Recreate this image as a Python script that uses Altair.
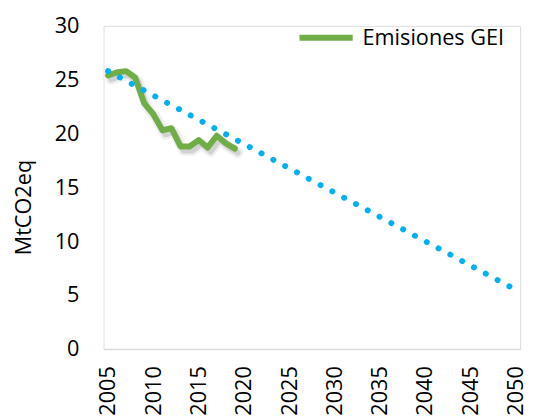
import altair as alt
import pandas as pd

# ---- data ----
hist_years = [2005, 2006, 2007, 2008, 2009, 2010, 2011, 2012, 2013, 2014,
              2015, 2016, 2017, 2018, 2019]
hist_values = [25.4, 25.7, 25.8, 25.2, 22.8, 21.8, 20.3, 20.5, 18.8, 18.8,
               19.4, 18.7, 19.8, 19.1, 18.6]
target_years = [2005, 2050]
target_values = [25.8, 5.5]
x_ticks = [2005, 2010, 2015, 2020, 2025, 2030, 2035, 2040, 2045, 2050]
y_ticks = [0, 5, 10, 15, 20, 25, 30]
series_name = "Emisiones GEI"

FONT = "Open Sans"
FS = 22

hist = pd.DataFrame({"year": hist_years, "value": hist_values,
                     "serie": [series_name] * len(hist_years)})
target = pd.DataFrame({"year": target_years, "value": target_values})

xscale = alt.Scale(domain=[2004.5, 2050.5], nice=False, zero=False)
yscale = alt.Scale(domain=[0, 30], nice=False)

x_axis = alt.Axis(values=x_ticks, format="d", labelAngle=270, labelFontSize=FS,
                  labelFont=FONT, labelColor="#000000", labelPadding=17,
                  ticks=False, tickSize=0, grid=False, domainColor="#d9d9d9",
                  domainWidth=1.5, title=None, labelOverlap=False,
                  labelFlush=False)
y_axis = alt.Axis(values=y_ticks, labelFontSize=FS, labelFont=FONT,
                  labelColor="#000000", labelPadding=25, ticks=False,
                  tickSize=0, grid=False, domain=False, title="MtCO2eq",
                  titleFont=FONT, titleFontSize=FS, titleFontWeight="normal",
                  titleColor="#000000", titleAngle=270, titleX=-81,
                  titleY=184, titleAlign="center", titleBaseline="middle")

base_x = alt.X("year:Q", scale=xscale, axis=x_axis)
base_y = alt.Y("value:Q", scale=yscale, axis=y_axis)

shadow1 = alt.Chart(hist).mark_line(
    color="#000000", opacity=0.06, strokeWidth=11, xOffset=3, yOffset=4,
    strokeJoin="round", strokeCap="round"
).encode(x=base_x, y=base_y)
shadow2 = alt.Chart(hist).mark_line(
    color="#000000", opacity=0.12, strokeWidth=6, xOffset=3, yOffset=4,
    strokeJoin="round", strokeCap="round"
).encode(x=base_x, y=base_y)

green = alt.Chart(hist).mark_line(
    strokeWidth=6, strokeJoin="round", strokeCap="round"
).encode(
    x=base_x, y=base_y,
    color=alt.Color("serie:N",
                    scale=alt.Scale(domain=[series_name], range=["#70AD47"]),
                    legend=alt.Legend(title=None, orient="none", legendX=196,
                                      legendY=-18, symbolType="stroke",
                                      symbolSize=2916, symbolStrokeWidth=6,
                                      labelFont=FONT, labelFontSize=FS,
                                      labelColor="#000000", labelOffset=7,
                                      padding=0))
)

blue = alt.Chart(target).mark_line(
    color="#00B0F0", strokeWidth=6, strokeCap="round",
    strokeDash=[0.1, 13.5]
).encode(x=base_x, y=base_y)

chart = alt.layer(shadow1, shadow2, green, blue).properties(
    width=423, height=328,
    autosize=alt.AutoSizeParams(type="none"),
    padding={"left": 97, "top": 15, "right": 6, "bottom": 69},
).configure_view(stroke=None).configure(background="#ffffff")

chart.save("out.html", embed_options={"renderer": "svg", "actions": False})
